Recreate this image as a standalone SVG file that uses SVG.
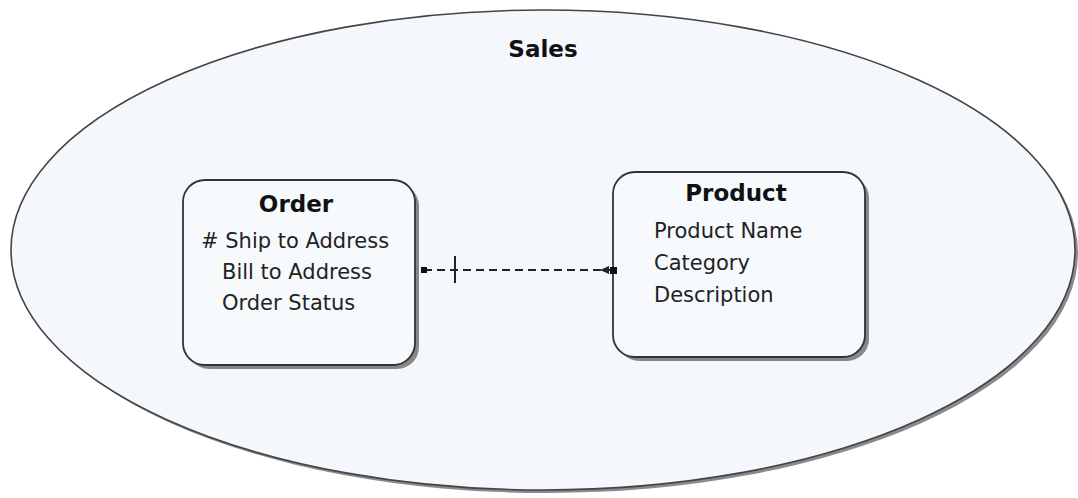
<svg xmlns="http://www.w3.org/2000/svg" width="1078" height="498" viewBox="0 0 1078 498">
<style>
.title{font-family:"DejaVu Sans","Liberation Sans",sans-serif;font-weight:bold;font-size:23px;fill:#111;text-anchor:middle}
.attr{font-family:"DejaVu Sans","Liberation Sans",sans-serif;font-size:21px;fill:#222}
.box{fill:#f7fafd;stroke:#333;stroke-width:1.8}
.shadow{fill:#888}
.conn{stroke:#222;stroke-width:2;fill:none}
</style>
<rect width="1078" height="498" fill="#ffffff"/>
<g id="sales">
<ellipse cx="546" cy="253" rx="532" ry="240" fill="#8a8a8a"/>
<ellipse cx="543" cy="250" rx="532" ry="240" fill="#f4f8fc" stroke="#444" stroke-width="1.6"/>
<text class="title" x="543" y="57">Sales</text>
</g>
<g id="order">
<rect class="shadow" x="187" y="184" width="232" height="185" rx="22"/>
<rect class="box" x="183" y="180" width="232" height="185" rx="22"/>
<text class="title" x="296" y="212">Order</text>
<text class="attr" x="201" y="248"># Ship to Address</text>
<text class="attr" x="222" y="279">Bill to Address</text>
<text class="attr" x="222" y="310">Order Status</text>
</g>
<g id="product">
<rect class="shadow" x="617" y="176" width="252" height="185" rx="22"/>
<rect class="box" x="613" y="172" width="252" height="185" rx="22"/>
<text class="title" x="736" y="201">Product</text>
<text class="attr" x="654" y="238">Product Name</text>
<text class="attr" x="654" y="270">Category</text>
<text class="attr" x="654" y="302">Description</text>
</g>
<g id="connectors">
<line class="conn" x1="424" y1="270" x2="612" y2="270" stroke-dasharray="8,5"/>
<line class="conn" x1="455" y1="256" x2="455" y2="283"/>
<rect x="421" y="267" width="6" height="6" fill="#111"/>
<rect x="610" y="267" width="7" height="7" fill="#111"/>
<polygon points="600,270 609,266 609,274" fill="#222"/>
</g>
</svg>
